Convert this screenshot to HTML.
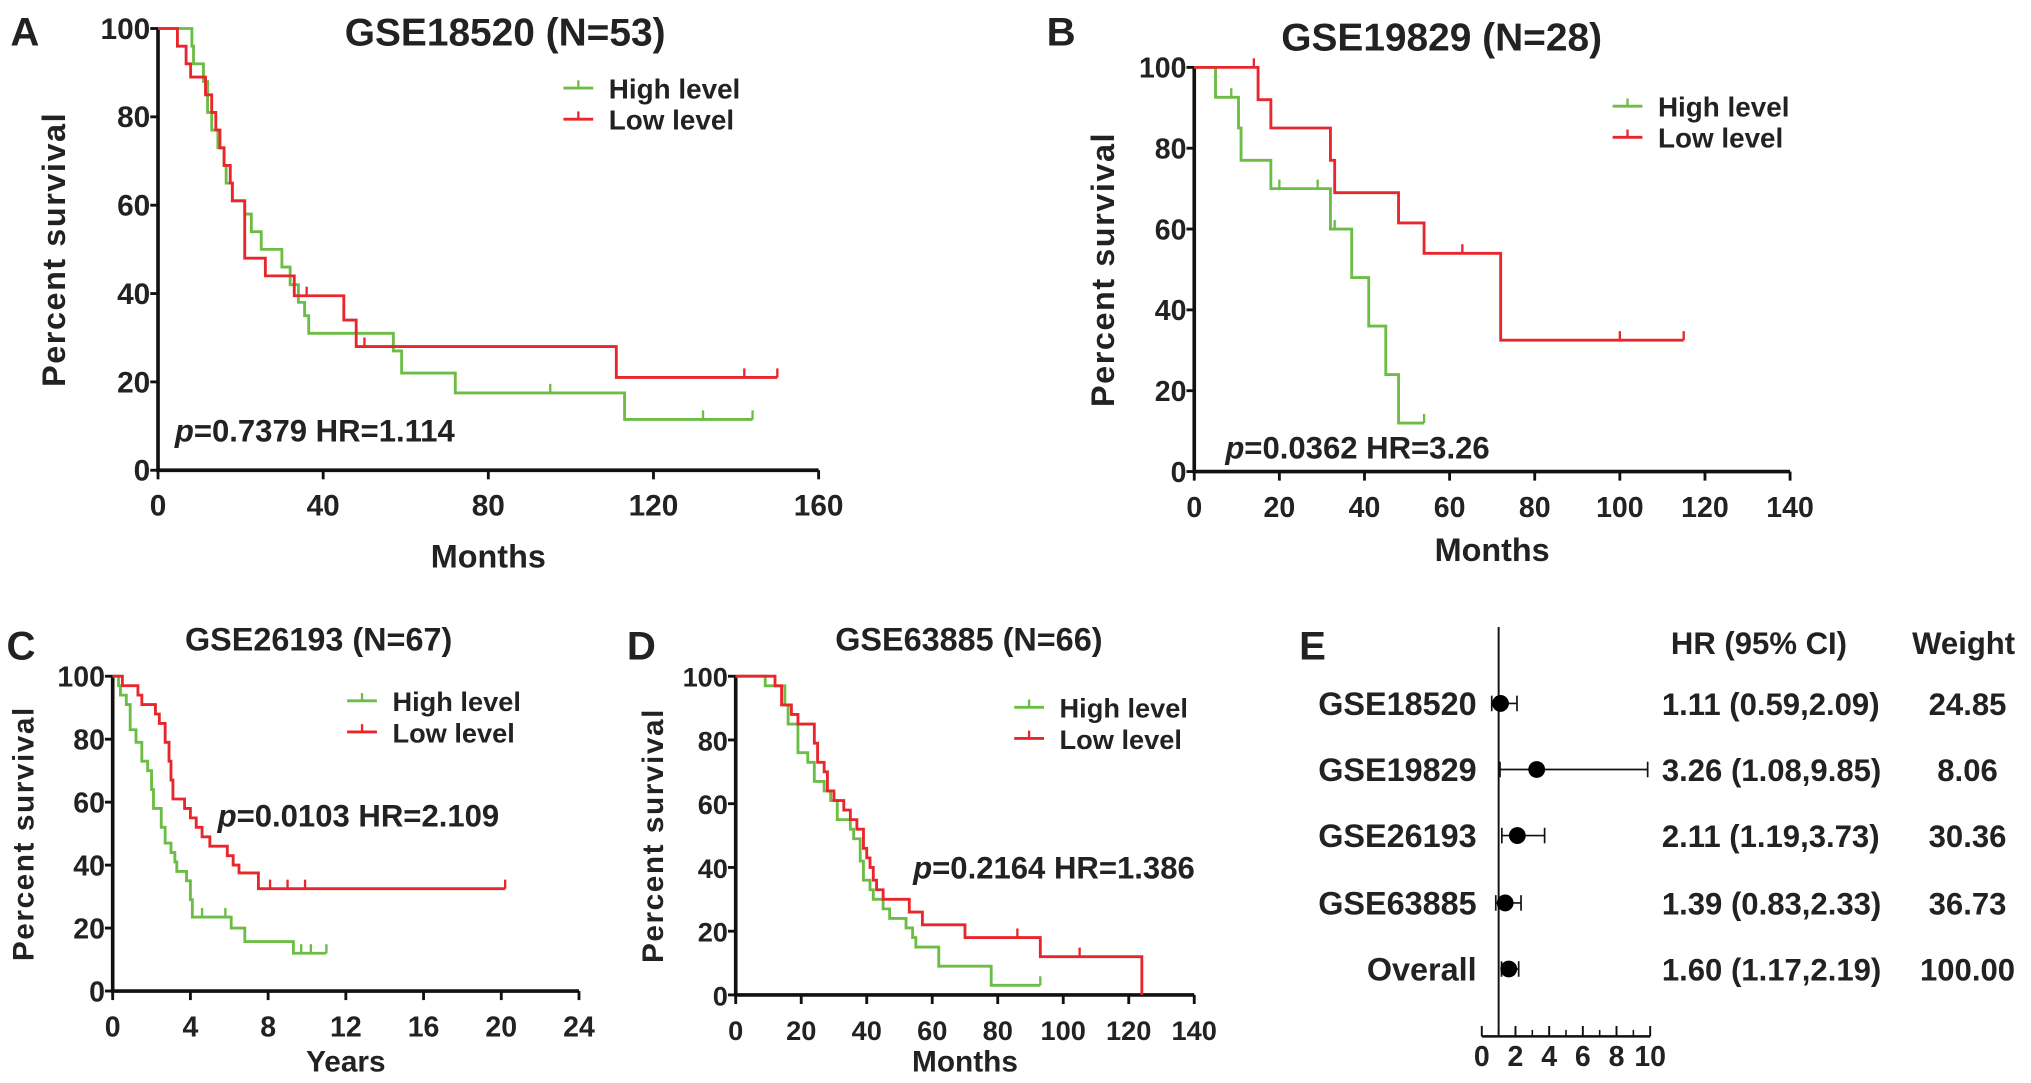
<!DOCTYPE html>
<html><head><meta charset="utf-8"><style>
html,body{margin:0;padding:0;background:#fff;}
svg{display:block;font-family:"Liberation Sans",Arial,sans-serif;font-weight:bold;}
</style></head><body>
<svg id="fig" width="2031" height="1083" viewBox="0 0 1568 836" preserveAspectRatio="none" xmlns="http://www.w3.org/2000/svg"></svg>
<script>
// ---- data ----
const aHighT=[8.2,8.6,11,12,13,14.5,16,16.5,18,21,22.6,25,30,32,34,35.5,36.5,57,59,72,113];
const aHighS=[96,92,88,81,77,73,69,65,61,58,54,50,46,42,38,35,31,27,22,17.5,11.5];
const aHighC=[95,132,144];
const aLowT=[4.7,6.8,7.9,11.5,13,14,15,16,17.5,18,21,26,33,45,48,111];
const aLowS=[96,92,89,85,81,77,73,69,65,61,48,44,39.5,34,28,21];
const aLowC=[36,50,142,150];
const bHighT=[5,10.4,11,18,32,37,41,45,48];
const bHighS=[92.6,85,77,70,60,48,36,24,12];
const bHighC=[8.7,20,29,33,54];
const bLowT=[15,18,32,33,48,54,72];
const bLowS=[92,85,77,69,61.5,54,32.5];
const bLowC=[14,63,100,115];
const cHighT=[0.3,0.4,0.7,0.9,1.2,1.5,1.8,2.0,2.1,2.5,2.7,3.0,3.2,3.3,3.8,4.0,4.1,6.1,6.8,9.3];
const cHighS=[97,94,91,83,79,73,70,64,58,52,47,44,41,38,35,29,23.5,20,15.7,12];
const cHighC=[4.6,5.8,9.7,10.2,11];
const cLowT=[0.5,1.3,1.5,2.2,2.4,2.7,2.9,3.0,3.1,3.7,4.0,4.3,4.6,5.0,5.9,6.2,6.5,7.5];
const cLowS=[97,94,91,88,85,79,73,67,61,58,55,52,49,46,43,40,37.5,32.5];
const cLowC=[8.1,9,9.9,20.2];
const dHighT=[9,15,16,19,22,24,27,29,31,35,36,38,39,41,42,45,47,52,54,55,62,78];
const dHighS=[97,91,85,76,73,67,64,61,55,52,49,42,36,33,30,27,24,21,18,15,9,3];
const dHighC=[93];
const dLowT=[12,14,17,19,24,25,27,28,30,33,35,37,39,40,41,42,43,45,53,57,70,93,124];
const dLowS=[97,91,88,85,79,73,70,64,61,58,55,52,46,43,40,36,33,30,26,22,18,12,0];
const dLowC=[86,105];
const forestNames=["GSE18520","GSE19829","GSE26193","GSE63885","Overall"];
const forestHR=[1.11,3.26,2.11,1.39,1.60];
const forestLo=[0.59,1.08,1.19,0.83,1.17];
const forestHi=[2.09,9.85,3.73,2.33,2.19];
const forestWeight=["24.85","8.06","30.36","36.73","100.00"];
const yTicks=[0,20,40,60,80,100];
const GREEN="#6cbd45", RED="#e8262b";
const svg=document.getElementById('fig');
const NS="http://www.w3.org/2000/svg";
function el(tag,attrs,parent,text){const e=document.createElementNS(NS,tag);for(const k in attrs)e.setAttribute(k,attrs[k]);if(text!==undefined)e.textContent=text;(parent||svg).appendChild(e);return e;}

function panel(cfg){
  const g=el('g',{});
  
  
  const X=v=>cfg.x0+(v/cfg.xmax)*(cfg.x1-cfg.x0);
  const Y=v=>cfg.y0-(v/100)*(cfg.y0-cfg.y100);
  const lt=el('text',{x:cfg.lx,y:cfg.ly,'font-size':31,fill:'#222'},g,cfg.id);
  
  const tt=el('text',{x:cfg.tx,y:cfg.ty,'font-size':cfg.tfs,'text-anchor':'middle',fill:'#222'},g,cfg.title);
  
  const ax=el('path',{d:`M${cfg.x0},${cfg.y100}V${cfg.y0}H${cfg.x1}`,stroke:'#111','stroke-width':2.8,fill:'none'},g);
  
  yTicks.forEach(v=>{
    el('line',{x1:cfg.x0-6,x2:cfg.x0,y1:Y(v),y2:Y(v),stroke:'#111','stroke-width':2.2},g);
    const t=el('text',{x:cfg.x0-6,y:Y(v)+8,'font-size':cfg.fs,'text-anchor':'end',fill:'#222'},g,String(v));
    
  });
  cfg.xticks.forEach(v=>{
    el('line',{x1:X(v),x2:X(v),y1:cfg.y0,y2:cfg.y0+7,stroke:'#111','stroke-width':2.2},g);
    const t=el('text',{x:X(v),y:cfg.y0+35,'font-size':cfg.fs,'text-anchor':'middle',fill:'#222'},g,String(v));
    
  });
  const yl=el('text',{x:0,y:0,'font-size':cfg.afs,'text-anchor':'middle',fill:'#222','letter-spacing':1.2,transform:`translate(${cfg.ylx},${(cfg.y0+cfg.y100)/2}) rotate(-90)`},g,'Percent survival');
  
  const xl=el('text',{x:(cfg.x0+cfg.x1)/2,y:cfg.xly,'font-size':cfg.afs,'text-anchor':'middle',fill:'#222'},g,cfg.xlabel);
  
  cfg.series.forEach(s=>{
    let d=`M${X(0)},${Y(100)}`;
    s.t.forEach((t,i)=>{d+=`H${X(t)}V${Y(s.s[i])}`;});
    const end=Math.max(s.c.length?Math.max(...s.c):0,s.t[s.t.length-1]);
    d+=`H${X(end)}`;
    const p=el('path',{d:d,stroke:s.color,'stroke-width':2.2,fill:'none'},g);
    
    s.c.forEach(c=>{
      let sv=100;s.t.forEach((t,i)=>{if(t<=c)sv=s.s[i];});
      const m=el('line',{x1:X(c),x2:X(c),y1:Y(sv),y2:Y(sv)-7,stroke:s.color,'stroke-width':1.8},g);
      
    });
  });
  [['High level',GREEN,cfg.legy],['Low level',RED,cfg.legy+24]].forEach(([lab,col,ly])=>{
    const lg=el('g',{},g);
    
    el('line',{x1:cfg.legx,x2:cfg.legx+23,y1:ly,y2:ly,stroke:col,'stroke-width':2.2},lg);
    el('line',{x1:cfg.legx+11.5,x2:cfg.legx+11.5,y1:ly,y2:ly-6,stroke:col,'stroke-width':1.8},lg);
    el('text',{x:cfg.legx+35,y:ly+8,'font-size':cfg.lfs,fill:'#222'},lg,lab);
  });
  const pt=el('text',{x:cfg.px,y:cfg.py,'font-size':cfg.pfs,fill:'#222'},g);
  
  el('tspan',{'font-style':'italic'},pt,'p');
  el('tspan',{},pt,cfg.ptext);
}

panel({id:'A',lx:8,ly:35,title:'GSE18520 (N=53)',tx:390,ty:35,tfs:30,x0:122,x1:632,y0:363,y100:22,xmax:160,xticks:[0,40,80,120,160],fs:23,afs:25,ylx:50,xly:438,xlabel:'Months',legx:435,legy:68,lfs:21.5,px:135,py:341,pfs:24,ptext:'=0.7379 HR=1.114',
  series:[{name:'high-level',t:aHighT,s:aHighS,c:aHighC,color:GREEN},{name:'low-level',t:aLowT,s:aLowS,c:aLowC,color:RED}]});
panel({id:'B',lx:808,ly:35,title:'GSE19829 (N=28)',tx:1113,ty:39,tfs:30,x0:922,x1:1382,y0:364,y100:52,xmax:140,xticks:[0,20,40,60,80,100,120,140],fs:22,afs:25,ylx:860,xly:433,xlabel:'Months',legx:1245,legy:82,lfs:21.5,px:946,py:354,pfs:24,ptext:'=0.0362 HR=3.26',
  series:[{name:'high-level',t:bHighT,s:bHighS,c:bHighC,color:GREEN},{name:'low-level',t:bLowT,s:bLowS,c:bLowC,color:RED}]});
panel({id:'C',lx:5,ly:509,title:'GSE26193 (N=67)',tx:246,ty:502,tfs:25,x0:87,x1:447,y0:765,y100:522,xmax:24,xticks:[0,4,8,12,16,20,24],fs:22,afs:23,ylx:26,xly:827,xlabel:'Years',legx:268,legy:541,lfs:21,px:168,py:638,pfs:24,ptext:'=0.0103 HR=2.109',
  series:[{name:'high-level',t:cHighT,s:cHighS,c:cHighC,color:GREEN},{name:'low-level',t:cLowT,s:cLowS,c:cLowC,color:RED}]});
panel({id:'D',lx:484,ly:509,title:'GSE63885 (N=66)',tx:748,ty:502,tfs:25,x0:568,x1:922,y0:768,y100:522,xmax:140,xticks:[0,20,40,60,80,100,120,140],fs:21,afs:23,ylx:512,xly:827,xlabel:'Months',legx:783,legy:546,lfs:21,px:705,py:678,pfs:24,ptext:'=0.2164 HR=1.386',
  series:[{name:'high-level',t:dHighT,s:dHighS,c:dHighC,color:GREEN},{name:'low-level',t:dLowT,s:dLowS,c:dLowC,color:RED}]});

(function(){
  const g=el('g',{});
  
  const FX=v=>1144+v*13;
  const rowY=[543,594,645,697,748];
  const e=el('text',{x:1003,y:509,'font-size':31,fill:'#222'},g,'E');
  
  const h1=el('text',{x:1290,y:505,'font-size':24,fill:'#222'},g,'HR (95% CI)');
  
  const h2=el('text',{x:1516,y:505,'font-size':24,'text-anchor':'middle',fill:'#222'},g,'Weight');
  
  const ref=el('line',{x1:FX(1),x2:FX(1),y1:484,y2:800,stroke:'#111','stroke-width':1.5},g);
  
  const xa=el('line',{x1:FX(0),x2:FX(10),y1:800,y2:800,stroke:'#111','stroke-width':2},g);
  
  [0,2,4,6,8,10].forEach(v=>{
    el('line',{x1:FX(v),x2:FX(v),y1:792,y2:800,stroke:'#111','stroke-width':1.5},g);
    const t=el('text',{x:FX(v),y:823,'font-size':22,'text-anchor':'middle',fill:'#222'},g,String(v));
    
  });
  [1,3,5,7,9].forEach(v=>el('line',{x1:FX(v),x2:FX(v),y1:795,y2:800,stroke:'#111','stroke-width':1.2},g));
  forestNames.forEach((n,i)=>{
    const y=rowY[i];
    const r=el('g',{},g);
    
    el('text',{x:1140,y:y+9,'font-size':25,'text-anchor':'end',fill:'#222'},r,n);
    el('line',{x1:FX(forestLo[i]),x2:FX(forestHi[i]),y1:y,y2:y,stroke:'#111','stroke-width':1.3},r);
    el('line',{x1:FX(forestLo[i]),x2:FX(forestLo[i]),y1:y-6,y2:y+6,stroke:'#111','stroke-width':1.3},r);
    el('line',{x1:FX(forestHi[i]),x2:FX(forestHi[i]),y1:y-6,y2:y+6,stroke:'#111','stroke-width':1.3},r);
    el('circle',{cx:FX(forestHR[i]),cy:y,r:6.5,fill:'#000'},r);
    el('text',{x:1283,y:y+9,'font-size':24,fill:'#222'},r,forestHR[i].toFixed(2)+' ('+forestLo[i].toFixed(2)+','+forestHi[i].toFixed(2)+')');
    el('text',{x:1519,y:y+9,'font-size':24,'text-anchor':'middle',fill:'#222'},r,forestWeight[i]);
  });
})();
</script>
</body></html>
